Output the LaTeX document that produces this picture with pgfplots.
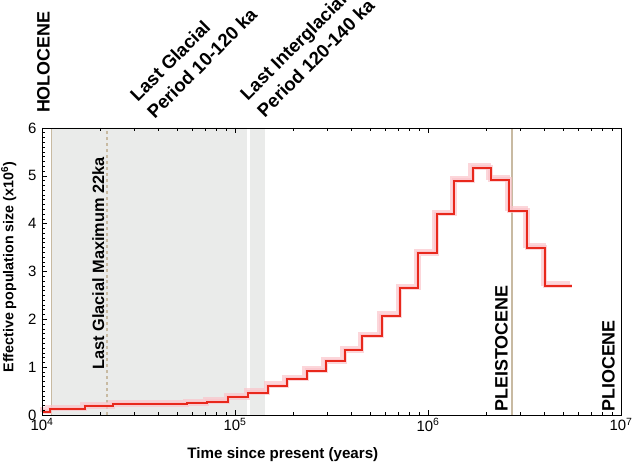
\documentclass[border=0pt]{standalone}
\usepackage{fontspec}
\setmainfont{Liberation Sans}
\usepackage{pgfplots}
\pgfplotsset{compat=1.18}
\definecolor{gbox}{RGB}{234,235,234}
\definecolor{tanl}{RGB}{200,186,162}
\definecolor{redl}{RGB}{232,40,28}
\definecolor{pinkb}{RGB}{251,196,202}
\begin{document}
\begin{tikzpicture}
\begin{axis}[
  scale only axis, width=579bp, height=287bp,
  xmode=log, xmin=1e4, xmax=1e7, ymin=0, ymax=6,
  xtick={1e4,1e5,1e6,1e7},
  xticklabels={10\textsuperscript{4},10\textsuperscript{5},10\textsuperscript{6},10\textsuperscript{7}},
  ytick={0,1,2,3,4,5,6}, minor y tick num=9,
  xtick pos=both, ytick pos=left,
  tick align=inside,
  major tick length=5bp, minor tick length=3bp,
  tick style={black, line width=0.6bp},
  axis line style={black, line width=0.8bp},
  axis on top=true,
  clip=false,
  /pgf/number format/assume math mode=true,
  ticklabel style={font=\fontsize{15}{17}\selectfont},
  yticklabel style={xshift=-2bp},
  xlabel={Time since present (years)},
  ylabel={Effective population size (x10\textsuperscript{6})},
  xlabel style={font=\fontsize{15.2}{18}\selectfont\bfseries, at={(axis description cs:0.416,0)}, anchor=center, yshift=-40bp},
  ylabel style={font=\fontsize{14.3}{16}\selectfont\bfseries, at={(axis description cs:-0.0575,0.515)}, anchor=center},
]
% shaded periods
\addplot[fill=gbox, draw=none] coordinates {(1.12e4,0) (1.12e4,6) (1.153e5,6) (1.153e5,0)} \closedcycle;
\addplot[fill=gbox, draw=none] coordinates {(1.196e5,0) (1.196e5,6) (1.43e5,6) (1.43e5,0)} \closedcycle;
% boundary lines
\addplot[tanl, line width=1.2bp] coordinates {(1.12e4,0) (1.12e4,6)};
\addplot[tanl, line width=1.2bp, dashed] coordinates {(2.17e4,0) (2.17e4,6)};
\addplot[tanl, line width=1.5bp] coordinates {(2.72e6,0) (2.72e6,6)};
% bootstrap band
\addplot[const plot, pinkb, line width=5bp, opacity=0.7, xshift=-2bp, yshift=2bp] coordinates {
(1.0e4,0.07) (1.1e4,0.125) (1.67e4,0.18) (2.33e4,0.22) (5.64e4,0.245) (7.16e4,0.28)
(9.2e4,0.37) (1.168e5,0.47) (1.483e5,0.61) (1.859e5,0.75) (2.36e5,0.93) (2.96e5,1.12)
(3.71e5,1.35) (4.55e5,1.65) (5.75e5,2.07) (7.16e5,2.65) (8.91e5,3.38) (1.109e6,4.2)
(1.371e6,4.9) (1.71e6,5.17) (2.113e6,4.92) (2.637e6,4.27) (3.27e6,3.5) (4.04e6,2.70) (5.56e6,2.70)};
\addplot[const plot, pinkb, line width=4.5bp, opacity=0.7] coordinates {
(1.0e4,0.07) (1.1e4,0.125) (1.67e4,0.18) (2.33e4,0.22) (5.64e4,0.245) (7.16e4,0.28)
(9.2e4,0.37) (1.168e5,0.47) (1.483e5,0.61) (1.859e5,0.75) (2.36e5,0.93) (2.96e5,1.12)
(3.71e5,1.35) (4.55e5,1.65) (5.75e5,2.07) (7.16e5,2.65) (8.91e5,3.38) (1.109e6,4.2)
(1.371e6,4.9) (1.71e6,5.17) (2.113e6,4.92) (2.637e6,4.27) (3.27e6,3.5) (4.04e6,2.70) (5.56e6,2.70)};
% main estimate
\addplot[const plot, redl, line width=2bp] coordinates {
(1.0e4,0.07) (1.1e4,0.125) (1.67e4,0.18) (2.33e4,0.22) (5.64e4,0.245) (7.16e4,0.28)
(9.2e4,0.37) (1.168e5,0.47) (1.483e5,0.61) (1.859e5,0.75) (2.36e5,0.93) (2.96e5,1.12)
(3.71e5,1.35) (4.55e5,1.65) (5.75e5,2.07) (7.16e5,2.65) (8.91e5,3.38) (1.109e6,4.2)
(1.371e6,4.9) (1.71e6,5.17) (2.113e6,4.92) (2.637e6,4.27) (3.27e6,3.5) (4.04e6,2.70) (5.56e6,2.70)};
% annotations
\node[rotate=90, anchor=west, inner sep=0pt, font=\fontsize{18}{21}\selectfont\bfseries] at (axis cs:1.018e4,6.31) {HOLOCENE};
\node[rotate=45, anchor=south west, inner sep=0pt, align=left, font=\fontsize{18.6}{24}\selectfont\bfseries] at (axis cs:3.85e4,6.17) {Last Glacial\\Period 10-120 ka};
\node[rotate=45, anchor=south west, inner sep=0pt, align=left, font=\fontsize{18.6}{24}\selectfont\bfseries] at (axis cs:1.43e5,6.2) {Last Interglacial\\Period 120-140 ka};
\node[rotate=90, anchor=south west, inner sep=0pt, font=\fontsize{16.4}{19}\selectfont\bfseries] at (axis cs:2.108e4,0.94) {Last Glacial Maximum 22ka};
\node[rotate=90, anchor=south west, inner sep=0pt, font=\fontsize{18}{21}\selectfont\bfseries] at (axis cs:2.6e6,0.063) {PLEISTOCENE};
\node[rotate=90, anchor=south west, inner sep=0pt, font=\fontsize{18}{21}\selectfont\bfseries] at (axis cs:9.3e6,0.063) {PLIOCENE};
\end{axis}
\pgfresetboundingbox
\path[use as bounding box] ([xshift=-42bp,yshift=-51bp]current axis.south west) rectangle ([xshift=11bp,yshift=128bp]current axis.north east);
\end{tikzpicture}
\end{document}
